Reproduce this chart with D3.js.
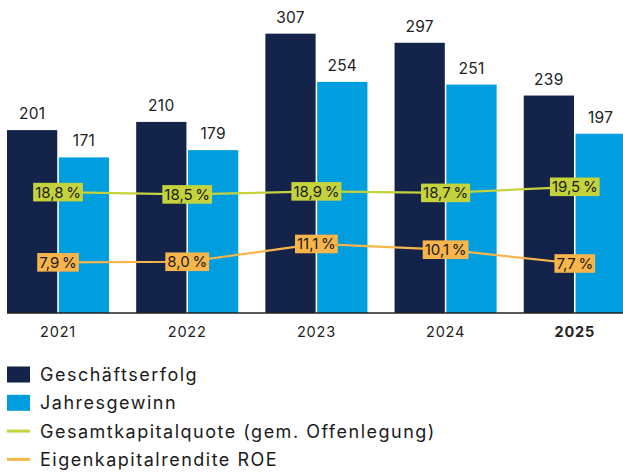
<!DOCTYPE html>
<html><head><meta charset="utf-8">
<script src="https://cdn.jsdelivr.net/npm/d3@7"></script>
<style>
html,body{margin:0;padding:0;background:#fff;}
svg{display:block;font-family:"Inter","Noto Sans",sans-serif;}
</style></head>
<body><svg id="c" width="623" height="473"></svg>
<script>
const years = ["2021","2022","2023","2024","2025"];
const geschaeftserfolg = [201,210,307,297,239];
const jahresgewinn = [171,179,254,251,197];
const gesamtkapitalquote = [18.8,18.5,18.9,18.7,19.5];
const eigenkapitalrendite = [7.9,8.0,11.1,10.1,7.7];
const seriesNames = ["Geschäftserfolg","Jahresgewinn","Gesamtkapitalquote (gem. Offenlegung)","Eigenkapitalrendite ROE"];
const colors = ["#13234a","#009ddf","#c4d33c","#f8b54b"];

const svg = d3.select("#c");
const baseY = 313;
const x0 = d3.scaleBand().domain(years).range([7, 625.8]).paddingInner(0.21).paddingOuter(0);
const x1 = d3.scaleBand().domain([0,1]).range([0, x0.bandwidth()]).paddingInner(0.03);
const y = d3.scaleLinear().domain([0, 344]).range([baseY, 0]);
const yG = d3.scaleLinear().domain([18, 20]).range([198.2, 183.0]);
const yO = d3.scaleLinear().domain([7, 12]).range([267.5, 238.8]);

const barData = [geschaeftserfolg, jahresgewinn];
barData.forEach((vals, si) => {
  const g = svg.append("g");
  g.selectAll("rect").data(vals).join("rect")
    .attr("x", (d,i) => x0(years[i]) + x1(si))
    .attr("y", d => y(d))
    .attr("width", x1.bandwidth())
    .attr("height", d => baseY - y(d))
    .attr("fill", colors[si]);
  g.selectAll("text").data(vals).join("text")
    .attr("x", (d,i) => x0(years[i]) + x1(si) + x1.bandwidth()/2)
    .attr("y", d => y(d) - 11)
    .attr("text-anchor","middle")
    .attr("font-size", 15.5)
    .attr("letter-spacing", 0.3)
    .attr("fill","#222")
    .text(d => d);
});

// axis
const xAxis = svg.append("g").attr("transform", `translate(0,${baseY})`)
  .call(d3.axisBottom(x0).tickSize(0).tickPadding(14));
xAxis.select(".domain").attr("d", "M7,0H623").attr("stroke","#222").attr("stroke-width",1.5);
xAxis.selectAll(".tick text")
  .attr("font-size", 14.5).attr("fill","#222").attr("font-family","Inter, sans-serif")
  .attr("letter-spacing", 0.8)
  .attr("font-weight", d => d === "2025" ? "bold" : "normal");

const cx = yr => x0(yr) + x0.bandwidth()/2;
function drawLine(vals, scale, color) {
  const line = d3.line().x((d,i) => cx(years[i])).y(d => scale(d));
  svg.append("path").datum(vals).attr("d", line)
    .attr("fill","none").attr("stroke", color).attr("stroke-width", 2.2);
  const lg = svg.append("g");
  vals.forEach((v,i) => {
    const gg = lg.append("g").attr("transform", `translate(${cx(years[i])},${scale(v)})`);
    const rect = gg.append("rect").attr("fill", color);
    const t = gg.append("text").attr("text-anchor","middle").attr("dy","0.36em")
      .attr("font-size", 15).attr("fill","#1a1a1a")
      .text(d3.format(".1f")(v).replace(".", ",") + "\u202f%");
    const bb = t.node().getBBox();
    rect.attr("x", bb.x - 2).attr("y", -9.3).attr("width", bb.width + 4).attr("height", 18.6);
  });
}
drawLine(gesamtkapitalquote, yG, colors[2]);
drawLine(eigenkapitalrendite, yO, colors[3]);

// legend
const leg = svg.append("g");
seriesNames.forEach((name, i) => {
  const ly = 374.5 + i * 28.3;
  if (i < 2) {
    leg.append("rect").attr("x",7).attr("y", ly - 8).attr("width",23).attr("height",16).attr("fill", colors[i]);
  } else {
    leg.append("rect").attr("x",7).attr("y", ly - 1.5).attr("width",23).attr("height",3).attr("fill", colors[i]);
  }
  leg.append("text").attr("x", 40).attr("y", ly).attr("dy","0.36em")
    .attr("font-size", 18).attr("letter-spacing", 1.5).attr("fill","#1a1a1a").text(name);
});
</script></body></html>
